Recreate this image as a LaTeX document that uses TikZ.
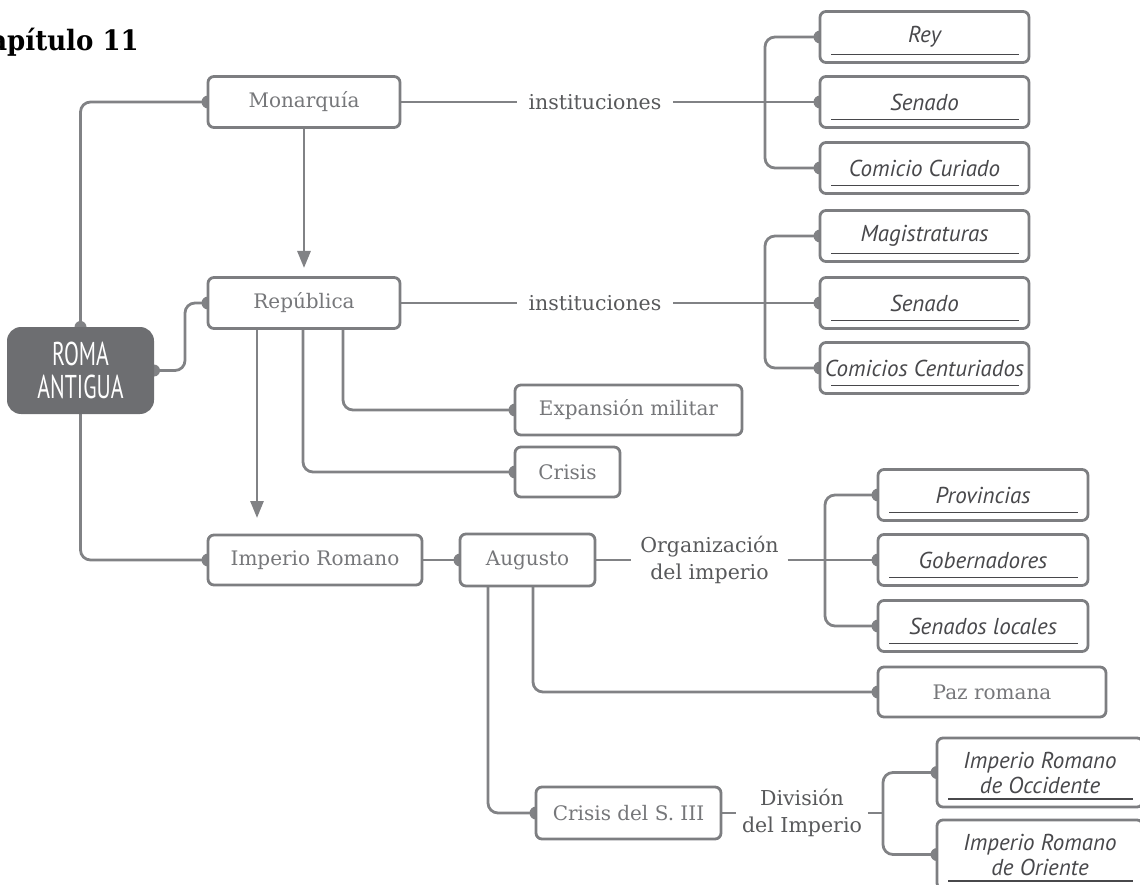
\documentclass[tikz,border=0pt]{standalone}
\usepackage{fontspec}
\setmainfont{DejaVu Serif}
\newfontfamily\labitfont{PT Sans}
\newfontfamily\romafont[FakeStretch=0.66]{PT Sans}
\newfontfamily\titlefont[FakeStretch=0.93]{DejaVu Serif}
\usetikzlibrary{arrows.meta}
\pgfdeclarelayer{bg}
\pgfsetlayers{bg,main}
\definecolor{lg}{HTML}{818285}
\definecolor{bd}{HTML}{7D7E81}
\definecolor{tx}{HTML}{76777A}
\definecolor{lt}{HTML}{58595B}
\definecolor{itc}{HTML}{48484B}
\definecolor{rm}{HTML}{6D6E71}
\tikzset{
  box/.style={draw=bd, line width=2.8pt, fill=white, rounded corners=6pt, outer sep=0pt, inner sep=0pt,
    font=\fontsize{20}{22}\selectfont, text=tx, minimum height=51pt},
  ibox/.style={box, minimum width=209pt, text=itc, align=center,
    font=\labitfont\itshape\fontsize{23}{25}\selectfont,
    path picture={\draw[itc, line width=1.6pt] ([shift={(11pt,8pt)}]path picture bounding box.south west) -- ([shift={(-10pt,8pt)}]path picture bounding box.south east);}},
  lab/.style={font=\fontsize{20.5}{27}\selectfont, text=lt, inner ysep=0pt, outer sep=0pt, align=center},
  conn/.style={draw=lg, line width=2.8pt, rounded corners=10pt},
  arr/.style={draw=lg, line width=2.8pt, -{Triangle[width=13pt,length=17pt]}},
}
\begin{document}
\begin{tikzpicture}[x=1pt,y=-1pt]
\useasboundingbox (0,0) rectangle (1140,885);
\clip (0,0) rectangle (1140,885);
% title
\node[anchor=base east, inner sep=0pt, font=\titlefont\bfseries\fontsize{28}{30}\selectfont, text=black] (title) at (139,51) {Capítulo 11};
% root
\node[fill=rm, rounded corners=14pt, minimum width=147pt, minimum height=87pt, inner sep=0pt, outer sep=0pt,
  text=white, align=center, font=\romafont\fontsize{33}{33}\selectfont] (roma) at (80.5,370.5) {ROMA\\ANTIGUA};
% main boxes
\node[box, minimum width=192pt] (mon) at (304,102) {Monarquía};
\node[box, minimum width=192pt] (rep) at (304,303) {República};
\node[box, minimum width=214pt, minimum height=50pt] (imp) at (315,560) {Imperio Romano};
\node[box, minimum width=135pt, minimum height=52pt] (aug) at (527.5,560) {Augusto};
\node[box, minimum width=227pt, minimum height=50pt] (exp) at (628.5,410) {Expansión militar};
\node[box, minimum width=105pt, minimum height=50pt] (cri) at (567.5,472) {Crisis};
\node[box, minimum width=228pt, minimum height=50pt] (paz) at (992,692) {Paz romana};
\node[box, minimum width=185pt, minimum height=52pt] (crs) at (628.5,813) {Crisis del S. III};
% labels
\node[lab, inner xsep=12pt] (inst1) at (595,102) {instituciones};
\node[lab, inner xsep=12pt] (inst2) at (595,303) {instituciones};
\node[lab, inner xsep=9pt] (org) at (709.5,560) {Organización\\del imperio};
\node[lab, inner xsep=6pt] (div) at (802,813) {División\\del Imperio};
% right boxes
\node[ibox] (rey) at (924.5,37) {Rey};
\node[ibox] (sen1) at (924.5,102) {Senado};
\node[ibox] (cc) at (924.5,168) {Comicio Curiado};
\node[ibox] (mag) at (924.5,236) {Magistraturas};
\node[ibox] (sen2) at (924.5,303) {Senado};
\node[ibox] (cent) at (924.5,368) {Comicios Centuriados};
\node[ibox, minimum width=210pt] (prov) at (983,495) {Provincias};
\node[ibox, minimum width=210pt] (gob) at (983,560) {Gobernadores};
\node[ibox, minimum width=210pt] (senl) at (983,626) {Senados locales};
\node[ibox, minimum width=206pt, minimum height=69pt] (occ) at (1040,772.5) {Imperio Romano\\de Occidente};
\node[ibox, minimum width=206pt, minimum height=69pt] (ori) at (1040,854.5) {Imperio Romano\\de Oriente};
% junction coordinates
\coordinate (k1) at (185,303);
\coordinate (b1) at (765,102);
\coordinate (b2) at (765,303);
\coordinate (b3) at (825,560);
\coordinate (b4) at (883,813);
\coordinate (a1) at (304,268);
\coordinate (a2) at (257,518);
\begin{pgfonlayer}{bg}
\draw[conn] (roma.north) |- (mon.west);
\draw[conn] (roma.east) -- (roma.east -| k1) -- (k1) -- (rep.west);
\draw[conn] (roma.south) |- (imp.west);
\draw[arr] (mon.south) -- (a1);
\draw[arr] (rep.south -| a2) -- (a2);
\draw[conn] ([xshift=39pt]rep.south) |- (exp.west);
\draw[conn] ([xshift=-1pt]rep.south) |- (cri.west);
\draw[conn] (mon.east) -- (inst1.west);
\draw[conn] (inst1.east) -- (b1);
\draw[conn] (rey.west) -| (b1) |- (cc.west);
\draw[conn] (b1) -- (sen1.west);
\draw[conn] (rep.east) -- (inst2.west);
\draw[conn] (inst2.east) -- (b2);
\draw[conn] (mag.west) -| (b2) |- (cent.west);
\draw[conn] (b2) -- (sen2.west);
\draw[conn] (imp.east) -- (aug.west);
\draw[conn] (aug.east) -- (org.west);
\draw[conn] (org.east) -- (b3);
\draw[conn] (prov.west) -| (b3) |- (senl.west);
\draw[conn] (b3) -- (gob.west);
\draw[conn] ([xshift=5.5pt]aug.south) |- (paz.west);
\draw[conn] ([xshift=-39.5pt]aug.south) |- (crs.west);
\draw[conn] (crs.east) -- (div.west);
\draw[conn] (div.east) -- (b4);
\draw[conn] (occ.west) -| (b4) |- (ori.west);
\foreach \n in {mon,rep,imp,aug,exp,cri,paz,crs,rey,sen1,cc,mag,sen2,cent,prov,gob,senl,occ,ori}
  \fill[lg] (\n.west) circle (6.5pt);
\fill[lg] (roma.north) circle (6pt);
\fill[lg] (roma.east) circle (6pt);
\end{pgfonlayer}
\end{tikzpicture}
\end{document}
